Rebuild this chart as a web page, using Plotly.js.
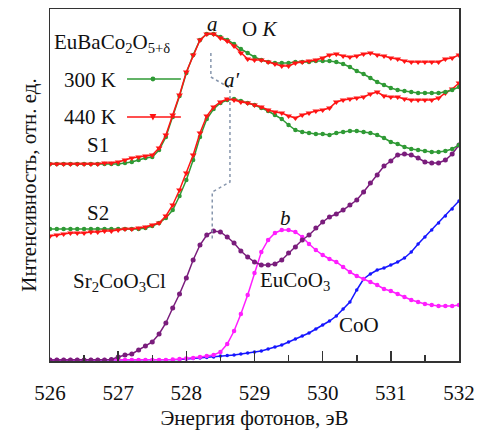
<!DOCTYPE html>
<html>
<head>
<meta charset="utf-8">
<script src="https://cdn.plot.ly/plotly-3.0.1.min.js"></script>
<style>
  html, body { margin: 0; padding: 0; background: #fff; }
  #plot { width: 492px; height: 439px; }
</style>
</head>
<body>
<div id="plot"></div>
<script>
// Photon energy grid, eV
const energy = [
  526.0, 526.1, 526.2, 526.3, 526.4, 526.5, 526.6, 526.7, 526.8, 526.9,
  527.0, 527.1, 527.2, 527.3, 527.4, 527.5, 527.6, 527.7, 527.8, 527.9,
  528.0, 528.1, 528.2, 528.3, 528.4, 528.5, 528.6, 528.7, 528.8, 528.9,
  529.0, 529.1, 529.2, 529.3, 529.4, 529.5, 529.6, 529.7, 529.8, 529.9,
  530.0, 530.1, 530.2, 530.3, 530.4, 530.5, 530.6, 530.7, 530.8, 530.9,
  531.0, 531.1, 531.2, 531.3, 531.4, 531.5, 531.6, 531.7, 531.8, 531.9,
  532.0
];

// EuBaCo2O5+δ, sample S1 (spectra shifted vertically)
const s1_300K = [
  197,197,197,197,197,197,197,197,197,197,
  197,198,199,201,203,204,211,224,244,265,
  288,306,321,327,327,324,321,317,312,308,
  304,301,299,298,298,298,299,299,299,300,
  300,300,299,297,294,290,287,283,279,276,
  273,271,270,269,268,268,268,268,269,271,
  274
];
const s1_440K = [
  197,197,197,197,197,197,197,197,198,198,
  199,201,203,204,205,206,213,226,246,266,
  289,306,321,327,327,323,320,315,308,302,
  301,301,299,297,295,295,298,299,300,301,
  303,306,307,305,304,305,307,308,306,305,
  303,302,300,299,299,299,299,299,302,303,
  306
];

// EuBaCo2O5+δ, sample S2
const s2_300K = [
  132,132,132,132,132,132,132,132,132,132,
  132,132,132,132,133,135,138,143,151,165,
  181,201,224,242,252,258,261,262,260,258,
  256,253,250,246,242,236,231,229,228,227,
  227,226,228,229,230,230,229,228,226,223,
  219,217,214,212,211,210,209,209,210,212,
  216
];
const s2_440K = [
  125,126,127,128,128,128,129,129,130,130,
  131,132,132,133,134,136,138,145,156,171,
  188,206,228,245,254,259,262,261,259,258,
  256,254,251,249,248,245,243,246,248,250,
  251,253,259,261,262,263,264,267,269,265,
  264,264,262,261,261,261,261,263,268,272,
  278
];

// Reference compounds
const sr2coo3cl = [
  1,1,1,1,1,1,1,1,1,1.5,
  4,6,7,11,15,19,27,38,53,67,
  83,101,116,126,130,129,124,118,110,104,
  99,96,96,97,101,108,114,121,126,133,
  139,144,147,151,156,161,169,178,186,195,
  200,206,207,206,203,199,198,198,201,207,
  216
];
const eucoo3 = [
  1,1,1,1,1,1,1,1,1,1,
  1,1,1,1,1,1,1,1,1.5,2,
  2.5,3,4,5,6,9,17,30,47,66,
  88,109,121,128,131,131,129,124,117,111,
  106,102,99,94,89,85,82,79,76,72,
  70,67,64,61,59,57,56,55,55,55,
  56
];
const coo = [
  1,1,1,1,1,1,1,1,1,1,
  1,1,1,1,1,1,1,1,1,1.5,
  2,2.5,3,3.5,4,5,5.5,6,7,8,
  9,10,12,14,16,19,22,25,28,32,
  36,40,45,52,59,71,82,87,91,93,
  96,99,103,109,117,124,131,138,145,152,
  160
];

// Guide linking peak a (S1), peak a' (S2) and the Sr2CoO3Cl maximum
const guideE = [528.36, 528.36, 528.64, 528.64, 528.38, 528.38];
const guideI = [308, 284, 273, 179, 169, 122];

// Energy axis ticks
const majorTicks = [526, 527, 528, 529, 530, 531, 532];

const SERIF = 'Liberation Serif';
const C_GREEN = '#2f9a35';
const C_RED = '#ff1414';
const C_PURPLE = '#7a1d7c';
const C_MAGENTA = '#ff1eff';
const C_BLUE = '#1616ff';
const C_AXIS = '#333333';

function series(y, color, symbol, size) {
  return {
    x: energy, y: y, type: 'scatter', mode: 'lines+markers',
    line: { color: color, width: 1.5 },
    marker: { color: color, symbol: symbol, size: size },
    hoverinfo: 'x+y', showlegend: false
  };
}

const traces = [
  series(coo, C_BLUE, 'circle', 3.5),
  series(eucoo3, C_MAGENTA, 'circle', 4.5),
  series(sr2coo3cl, C_PURPLE, 'circle', 5),
  series(s2_300K, C_GREEN, 'circle', 4.5),
  series(s2_440K, C_RED, 'triangle-down', 6),
  series(s1_300K, C_GREEN, 'circle', 4.5),
  series(s1_440K, C_RED, 'triangle-down', 6),
  {
    x: guideE, y: guideI, type: 'scatter', mode: 'lines',
    line: { color: '#8796ad', width: 1.5, dash: 'dot' },
    hoverinfo: 'skip', showlegend: false
  }
];

function label(text, x, y, xanchor) {
  return {
    text: text, x: x, y: y, xref: 'x', yref: 'y',
    xanchor: xanchor || 'center', yanchor: 'middle',
    showarrow: false,
    font: { family: SERIF, size: 21, color: '#111' }
  };
}

const annotations = [
  label('<i>a</i>', 528.38, 337),
  label('O <i>K</i>', 529.08, 332),
  label('<i>a\u2032</i>', 528.67, 281),
  label('EuBaCo<sub>2</sub>O<sub>5+\u03b4</sub>', 526.03, 318, 'left'),
  label('300 K', 526.18, 281, 'left'),
  label('440 K', 526.18, 244, 'left'),
  label('S1', 526.70, 216),
  label('S2', 526.70, 148),
  label('Sr<sub>2</sub>CoO<sub>3</sub>Cl', 526.31, 79, 'left'),
  label('<i>b</i>', 529.45, 143),
  label('EuCoO<sub>3</sub>', 529.05, 80, 'left'),
  label('CoO', 530.21, 36, 'left')
];

// Legend keys: line segment with a marker in the middle
const shapes = [
  { type: 'line', xref: 'x', yref: 'y', x0: 527.13, x1: 527.92, y0: 282, y1: 282,
    line: { color: C_GREEN, width: 1.5 } },
  { type: 'circle', xref: 'x', yref: 'y', x0: 527.475, x1: 527.545, y0: 279.6, y1: 284.4,
    fillcolor: C_GREEN, line: { color: C_GREEN, width: 0 } },
  { type: 'line', xref: 'x', yref: 'y', x0: 527.13, x1: 527.92, y0: 244, y1: 244,
    line: { color: C_RED, width: 1.5 } },
  { type: 'path', xref: 'x', yref: 'y',
    path: 'M 527.46 247 L 527.56 247 L 527.51 240.5 Z',
    fillcolor: C_RED, line: { color: C_RED, width: 0 } }
];

const layout = {
  width: 492, height: 439,
  margin: { l: 50, r: 33, t: 9, b: 78 },
  paper_bgcolor: '#ffffff', plot_bgcolor: '#ffffff',
  showlegend: false,
  font: { family: SERIF, size: 20, color: '#111' },
  xaxis: {
    range: [526, 532], tickmode: 'array', tickvals: majorTicks,
    ticktext: majorTicks.map(String),
    ticks: 'inside', ticklen: 10, tickwidth: 1.5, tickcolor: C_AXIS,
    minor: { tickmode: 'linear', tick0: 526, dtick: 0.5, ticks: 'inside',
             ticklen: 6, tickwidth: 1.5, tickcolor: C_AXIS, showgrid: false },
    showline: true, linecolor: C_AXIS, linewidth: 1.5, mirror: true,
    showgrid: false, zeroline: false,
    tickfont: { family: SERIF, size: 21, color: '#111' },
    ticklabelstandoff: 12,
    title: { text: 'Энергия фотонов, эВ', font: { family: SERIF, size: 21, color: '#111' }, standoff: 6 }
  },
  yaxis: {
    range: [0, 352], showticklabels: false, ticks: '',
    showline: true, linecolor: C_AXIS, linewidth: 1.5, mirror: true,
    showgrid: false, zeroline: false,
    title: { text: 'Интенсивность, отн. ед.', font: { family: SERIF, size: 21, color: '#111' }, standoff: 6 }
  },
  annotations: annotations,
  shapes: shapes
};

Plotly.newPlot('plot', traces, layout, { staticPlot: true, displayModeBar: false });
</script>
</body>
</html>
